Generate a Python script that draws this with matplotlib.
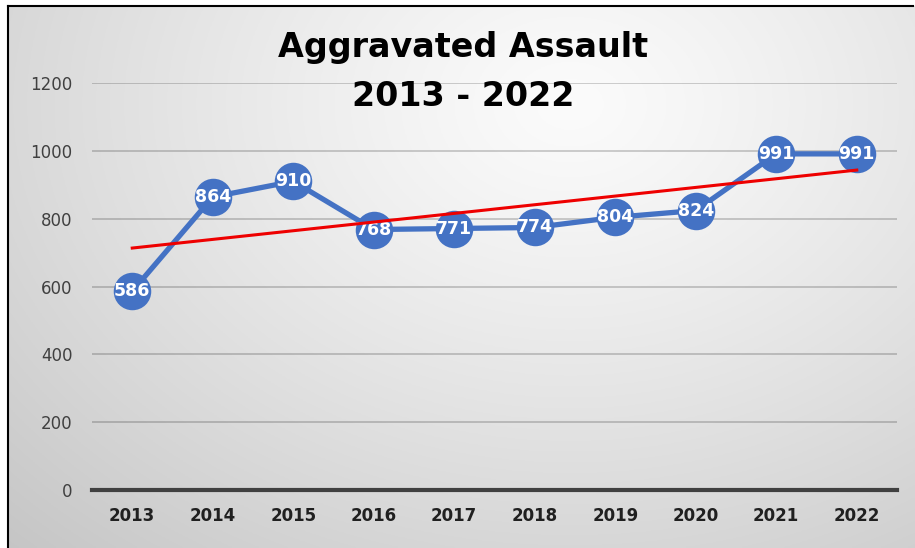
import numpy as np
import matplotlib
matplotlib.use("Agg")
from matplotlib import pyplot as plt
from matplotlib.lines import Line2D

years = ["2013", "2014", "2015", "2016", "2017", "2018", "2019", "2020", "2021", "2022"]
counts = [586, 864, 910, 768, 771, 774, 804, 824, 991, 991]
yticks = [0, 200, 400, 600, 800, 1000, 1200]

W, H = 915, 548
fig = plt.figure(figsize=(W / 100, H / 100), dpi=100)
fig.patch.set_facecolor("white")

# radial grey background, lightest up and to the right of centre
bg = fig.add_axes([8 / W, 0, (W - 8) / W, 1 - 6 / H], zorder=0)
gx, gy = np.meshgrid(np.linspace(0, 1, 400), np.linspace(0, 1, 240))
d = np.sqrt(((gx - 0.62) / 0.75) ** 2 + ((gy - 0.18) / 0.95) ** 2)
shade = 0.985 - 0.17 * np.clip(d, 0, 1.3) ** 1.2
bg.imshow(np.dstack([shade] * 3), aspect="auto", extent=(0, 1, 1, 0))
bg.set_axis_off()
# only the left and top edges of the frame are in the picture
fig.add_artist(Line2D([8 / W, 8 / W], [0, 1 - 6 / H], transform=fig.transFigure,
                      color="black", linewidth=1.5, zorder=10))
fig.add_artist(Line2D([8 / W, 913 / W], [1 - 6 / H, 1 - 6 / H], transform=fig.transFigure,
                      color="black", linewidth=1.5, zorder=10))

ax = fig.add_axes([92 / W, 1 - 490 / H, 805 / W, 407 / H], zorder=1)
ax.patch.set_alpha(0)
x = np.arange(len(years))

ax.set_ylim(0, 1200)
ax.set_xlim(-0.5, len(years) - 0.5)
ax.set_yticks(yticks)
ax.set_yticklabels([str(v) for v in yticks], fontsize=12, color="#404040",
                   family="DejaVu Sans")
ax.set_xticks(x)
ax.set_xticklabels(years, fontsize=12, fontweight="bold", color="#202020",
                   family="DejaVu Sans")
ax.tick_params(length=0, pad=14)
ax.tick_params(axis="x", pad=12)
for v in yticks[1:]:
    ax.axhline(v, color="black", alpha=0.2, linewidth=1.3, zorder=1)
for s in ["top", "right", "left"]:
    ax.spines[s].set_visible(False)
ax.spines["bottom"].set_color("#404040")
ax.spines["bottom"].set_linewidth(3)

ax.plot(x, counts, color="#4472C4", linewidth=3.8, marker="o",
        markersize=27, markeredgewidth=0, zorder=3)
for xi, v in zip(x, counts):
    ax.text(xi, v, str(v), ha="center", va="center", color="white",
            fontsize=12.5, fontweight="bold", zorder=4)

k, b = np.polyfit(x, counts, 1)
ax.plot(x, k * x + b, color="#ee0000", linewidth=2.2, zorder=5)

fig.text(463 / W, 1 - 48 / H, "Aggravated Assault", ha="center", va="center",
         fontsize=24, fontweight="bold", color="black")
fig.text(463 / W, 1 - 97 / H, "2013 - 2022", ha="center", va="center",
         fontsize=24, fontweight="bold", color="black")

fig.savefig("out.png", dpi=100)
